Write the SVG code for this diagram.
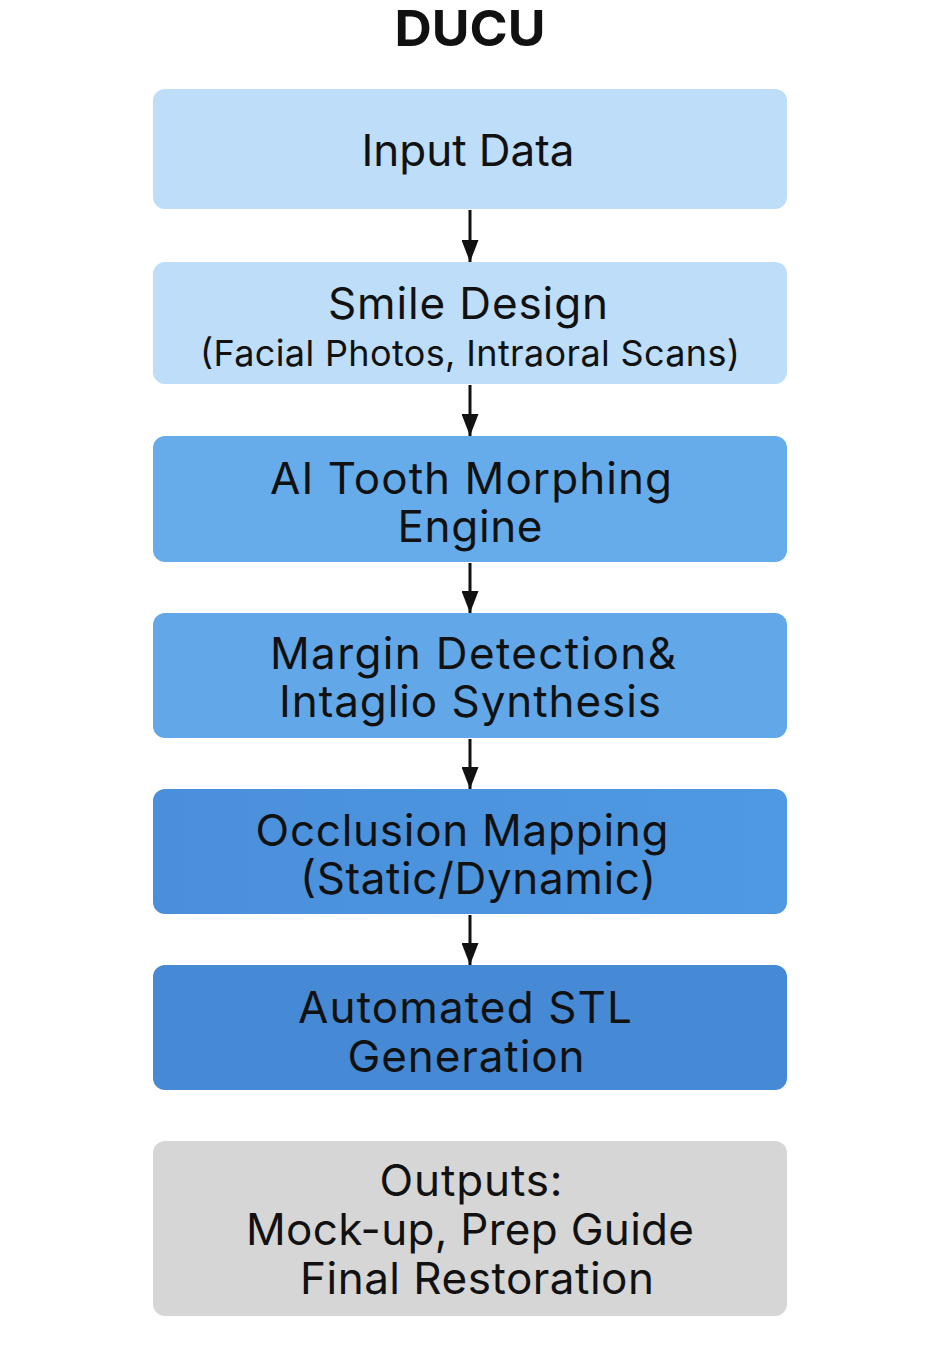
<svg xmlns="http://www.w3.org/2000/svg" width="942" height="1350" viewBox="0 0 942 1350">
<defs>
<style>
.t{font-family:Inter,"Noto Sans","Liberation Sans",sans-serif;fill:#111;text-anchor:middle}
.l{font-size:44px}
.s{font-size:36px}
</style>
<marker id="ah" markerWidth="22" markerHeight="17" refX="22" refY="8.5" orient="auto" markerUnits="userSpaceOnUse" viewBox="0 0 22 17">
<path d="M0,0 L22,8.5 L0,17 Z" fill="#111"/>
</marker>
<linearGradient id="g5" x1="0" y1="0" x2="1" y2="0"><stop offset="0" stop-color="#4A8FDB"/><stop offset="1" stop-color="#4F99E2"/></linearGradient>
</defs>
<rect width="942" height="1350" fill="#fff"/>
<text class="t" x="470" y="46" font-size="50" font-weight="bold" textLength="151" lengthAdjust="spacingAndGlyphs">DUCU</text>
<g id="n1"><rect x="153" y="89" width="634" height="120" rx="12" fill="#BDDDF8"/><text class="t l" x="468" y="166" textLength="213">Input Data</text></g>
<g id="n2"><rect x="153" y="262" width="634" height="122" rx="12" fill="#BDDDF8"/><text class="t l" x="468" y="319" textLength="280">Smile Design</text><text class="t s" x="470" y="366" textLength="540">(Facial Photos, Intraoral Scans)</text></g>
<g id="n3"><rect x="153" y="436" width="634" height="126" rx="12" fill="#66ACEA"/><text class="t l" x="471" y="494" textLength="402">AI Tooth Morphing</text><text class="t l" x="470" y="542" textLength="145">Engine</text></g>
<g id="n4"><rect x="153" y="613" width="634" height="125" rx="12" fill="#62A8E8"/><text class="t l" x="473" y="669" textLength="406">Margin Detection&amp;</text><text class="t l" x="470" y="717" textLength="382">Intaglio Synthesis</text></g>
<g id="n5"><rect x="153" y="789" width="634" height="125" rx="12" fill="url(#g5)"/><text class="t l" x="462" y="846" textLength="413">Occlusion Mapping</text><text class="t l" x="478" y="894" textLength="356">(Static/Dynamic)</text></g>
<g id="n6"><rect x="153" y="965" width="634" height="125" rx="12" fill="#4689D4"/><text class="t l" x="465" y="1023" textLength="334">Automated STL</text><text class="t l" x="466" y="1072" textLength="237">Generation</text></g>
<g id="n7"><rect x="153" y="1141" width="634" height="175" rx="12" fill="#D6D6D6"/><text class="t l" x="471" y="1196" textLength="183">Outputs:</text><text class="t l" x="470" y="1245" textLength="448">Mock-up, Prep Guide</text><text class="t l" x="477" y="1294" textLength="354">Final Restoration</text></g>
<g id="connectors" stroke="#111" stroke-width="3" fill="none">
<line x1="470" y1="210" x2="470" y2="262" marker-end="url(#ah)"/>
<line x1="470" y1="385" x2="470" y2="436" marker-end="url(#ah)"/>
<line x1="470" y1="563" x2="470" y2="613" marker-end="url(#ah)"/>
<line x1="470" y1="739" x2="470" y2="789" marker-end="url(#ah)"/>
<line x1="470" y1="915" x2="470" y2="965" marker-end="url(#ah)"/>
</g>
</svg>
